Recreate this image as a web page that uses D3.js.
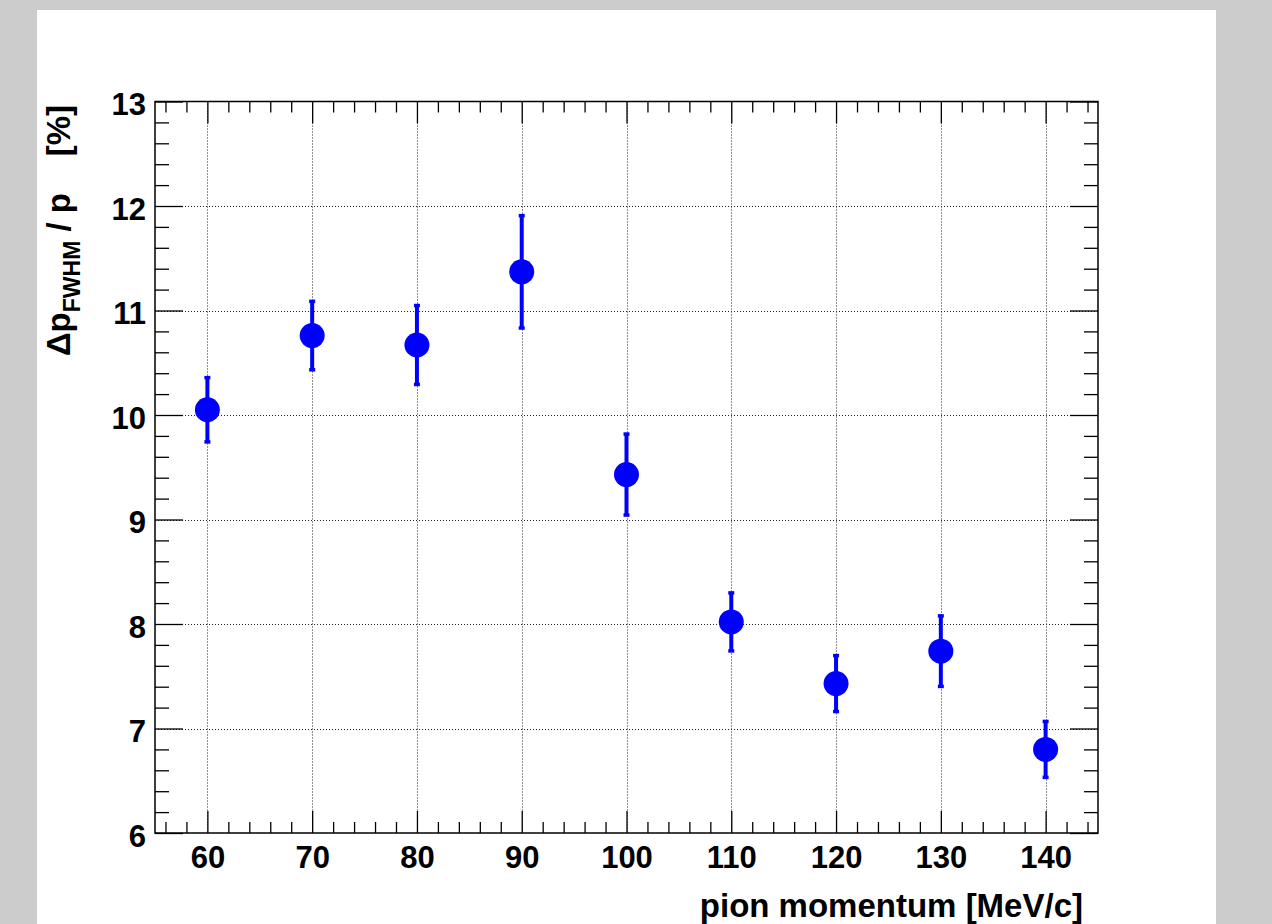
<!DOCTYPE html>
<html>
<head>
<meta charset="utf-8">
<script src="https://cdn.jsdelivr.net/npm/d3@7"></script>
<style>
  html, body { margin: 0; padding: 0; background: #cccccc; }
  svg { display: block; }
  text { font-family: "Liberation Sans", Arial, Helvetica, sans-serif; font-weight: bold; fill: #000; }
</style>
</head>
<body>
<svg id="chart" width="1272" height="924"></svg>
<script>
// ---- data ----
const momenta = [60, 70, 80, 90, 100, 110, 120, 130, 140];
const resolution = [10.05, 10.76, 10.67, 11.37, 9.43, 8.02, 7.43, 7.74, 6.80];
const resolutionErr = [0.31, 0.33, 0.38, 0.54, 0.39, 0.28, 0.27, 0.34, 0.27];
const xTickValues = [60, 70, 80, 90, 100, 110, 120, 130, 140];
const yTickValues = [6, 7, 8, 9, 10, 11, 12, 13];
const xTitle = "pion momentum [MeV/c]";

// ---- layout ----
const W = 1272, H = 924;
const frame = { left: 155, right: 1098, top: 101.5, bottom: 833 };
const svg = d3.select("#chart");

svg.append("rect").attr("x", 0).attr("y", 0).attr("width", W).attr("height", H).attr("fill", "#cccccc");
svg.append("rect").attr("x", 37).attr("y", 10).attr("width", 1179).attr("height", H).attr("fill", "#ffffff");

const x = d3.scaleLinear().domain([55, 145]).range([frame.left, frame.right]);
const y = d3.scaleLinear().domain([6, 13]).range([frame.bottom, frame.top]);

const xMinor = d3.range(56, 145, 2).filter(v => v % 10 !== 0);
const yMinor = d3.range(6, 13.0001, 0.2).map(v => +v.toFixed(1)).filter(v => Math.abs(v - Math.round(v)) > 1e-6);

// grid
const grid = svg.append("g").attr("stroke", "#222").attr("stroke-width", 1).attr("stroke-dasharray", "1,2");
grid.selectAll("line.gx").data(xTickValues).join("line").attr("class", "gx")
  .attr("x1", d => Math.round(x(d)) + 0.5).attr("x2", d => Math.round(x(d)) + 0.5)
  .attr("y1", frame.top).attr("y2", frame.bottom);
grid.selectAll("line.gy").data(yTickValues.filter(v => v > 6 && v < 13)).join("line").attr("class", "gy")
  .attr("y1", d => Math.round(y(d)) + 0.5).attr("y2", d => Math.round(y(d)) + 0.5)
  .attr("x1", frame.left).attr("x2", frame.right);

// axes
const fontSize = 31;
function styleAxis(g) {
  g.select(".domain").remove();
  g.selectAll("line").attr("stroke", "#000").attr("stroke-width", 1.3);
  g.selectAll("text").style("font-size", fontSize + "px").style("font-weight", "bold")
    .style("font-family", '"Liberation Sans", Arial, sans-serif').attr("fill", "#000");
}

// bottom major
svg.append("g").attr("transform", `translate(0,${frame.bottom})`)
  .call(d3.axisBottom(x).tickValues(xTickValues).tickFormat(d3.format("d"))
    .tickSizeInner(-22).tickSizeOuter(0).tickPadding(13))
  .call(styleAxis);
// bottom minor
svg.append("g").attr("transform", `translate(0,${frame.bottom})`)
  .call(d3.axisBottom(x).tickValues(xMinor).tickFormat("").tickSizeInner(-11).tickSizeOuter(0))
  .call(styleAxis);
// top major/minor
svg.append("g").attr("transform", `translate(0,${frame.top})`)
  .call(d3.axisTop(x).tickValues(xTickValues).tickFormat("").tickSizeInner(-22).tickSizeOuter(0))
  .call(styleAxis);
svg.append("g").attr("transform", `translate(0,${frame.top})`)
  .call(d3.axisTop(x).tickValues(xMinor).tickFormat("").tickSizeInner(-11).tickSizeOuter(0))
  .call(styleAxis);
// left major
svg.append("g").attr("transform", `translate(${frame.left},0)`)
  .call(d3.axisLeft(y).tickValues(yTickValues).tickFormat(d3.format("d"))
    .tickSizeInner(-28).tickSizeOuter(0).tickPadding(9))
  .call(styleAxis)
  .call(g => g.selectAll("text").attr("dy", "0.43em"));
// left minor
svg.append("g").attr("transform", `translate(${frame.left},0)`)
  .call(d3.axisLeft(y).tickValues(yMinor).tickFormat("").tickSizeInner(-14).tickSizeOuter(0))
  .call(styleAxis);
// right major/minor
svg.append("g").attr("transform", `translate(${frame.right},0)`)
  .call(d3.axisRight(y).tickValues(yTickValues).tickFormat("").tickSizeInner(-28).tickSizeOuter(0))
  .call(styleAxis);
svg.append("g").attr("transform", `translate(${frame.right},0)`)
  .call(d3.axisRight(y).tickValues(yMinor).tickFormat("").tickSizeInner(-14).tickSizeOuter(0))
  .call(styleAxis);

// frame
svg.append("rect").attr("x", frame.left).attr("y", frame.top)
  .attr("width", frame.right - frame.left).attr("height", frame.bottom - frame.top)
  .attr("fill", "none").attr("stroke", "#000").attr("stroke-width", 1.5);

// data
const pts = momenta.map((m, i) => ({ m, v: resolution[i], e: resolutionErr[i] }));
const blue = "#0000ff";
const eb = svg.append("g");
eb.selectAll("line.bar").data(pts).join("line").attr("class", "bar")
  .attr("x1", d => x(d.m)).attr("x2", d => x(d.m))
  .attr("y1", d => y(d.v + d.e)).attr("y2", d => y(d.v - d.e))
  .attr("stroke", blue).attr("stroke-width", 4);
eb.selectAll("rect.capTop").data(pts).join("rect").attr("class", "capTop")
  .attr("x", d => x(d.m) - 3).attr("y", d => y(d.v + d.e) - 1.5)
  .attr("width", 6).attr("height", 3.5).attr("fill", blue);
eb.selectAll("rect.capBot").data(pts).join("rect").attr("class", "capBot")
  .attr("x", d => x(d.m) - 3).attr("y", d => y(d.v - d.e) - 2)
  .attr("width", 6).attr("height", 3.5).attr("fill", blue);
svg.append("g").selectAll("circle").data(pts).join("circle")
  .attr("cx", d => x(d.m)).attr("cy", d => y(d.v)).attr("r", 12.5).attr("fill", blue);

// axis titles
svg.append("text").attr("x", 1083).attr("y", 917).attr("text-anchor", "end")
  .style("font-size", "33px").text(xTitle);

const yt = svg.append("text").attr("transform", "translate(70,105) rotate(-90)")
  .attr("text-anchor", "end").style("font-size", "33px").style("white-space", "pre");
yt.append("tspan").text("\u0394p");
yt.append("tspan").attr("dy", 10).style("font-size", "23px").text("FWHM");
yt.append("tspan").attr("dy", -10).text(" / p    [%]");
</script>
</body>
</html>
